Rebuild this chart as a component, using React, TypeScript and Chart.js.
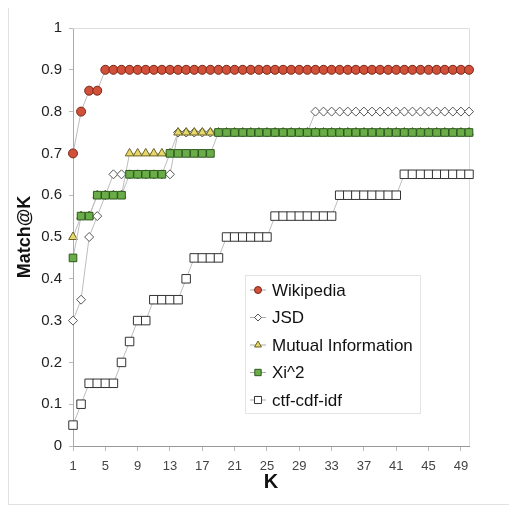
import React, { useEffect, useRef } from "react";
import { Chart, registerables } from "chart.js";
import { drawPoint } from "chart.js/helpers";

Chart.register(...registerables);

const K = [1, 2, 3, 4, 5, 6, 7, 8, 9, 10, 11, 12, 13, 14, 15, 16, 17, 18, 19, 20, 21, 22, 23, 24, 25, 26, 27, 28, 29, 30, 31, 32, 33, 34, 35, 36, 37, 38, 39, 40, 41, 42, 43, 44, 45, 46, 47, 48, 49, 50];

const wikipedia = [0.7, 0.8, 0.85, 0.85, 0.9, 0.9, 0.9, 0.9, 0.9, 0.9, 0.9, 0.9, 0.9, 0.9, 0.9, 0.9, 0.9, 0.9, 0.9, 0.9, 0.9, 0.9, 0.9, 0.9, 0.9, 0.9, 0.9, 0.9, 0.9, 0.9, 0.9, 0.9, 0.9, 0.9, 0.9, 0.9, 0.9, 0.9, 0.9, 0.9, 0.9, 0.9, 0.9, 0.9, 0.9, 0.9, 0.9, 0.9, 0.9, 0.9];

const jsd = [0.3, 0.35, 0.5, 0.55, 0.6, 0.65, 0.65, 0.65, 0.65, 0.65, 0.65, 0.65, 0.65, 0.75, 0.75, 0.75, 0.75, 0.75, 0.75, 0.75, 0.75, 0.75, 0.75, 0.75, 0.75, 0.75, 0.75, 0.75, 0.75, 0.75, 0.8, 0.8, 0.8, 0.8, 0.8, 0.8, 0.8, 0.8, 0.8, 0.8, 0.8, 0.8, 0.8, 0.8, 0.8, 0.8, 0.8, 0.8, 0.8, 0.8];

const mutualInfo = [0.5, 0.55, 0.55, 0.6, 0.6, 0.6, 0.6, 0.7, 0.7, 0.7, 0.7, 0.7, 0.7, 0.75, 0.75, 0.75, 0.75, 0.75, 0.75, 0.75, 0.75, 0.75, 0.75, 0.75, 0.75, 0.75, 0.75, 0.75, 0.75, 0.75, 0.75, 0.75, 0.75, 0.75, 0.75, 0.75, 0.75, 0.75, 0.75, 0.75, 0.75, 0.75, 0.75, 0.75, 0.75, 0.75, 0.75, 0.75, 0.75, 0.75];

const xi2 = [0.45, 0.55, 0.55, 0.6, 0.6, 0.6, 0.6, 0.65, 0.65, 0.65, 0.65, 0.65, 0.7, 0.7, 0.7, 0.7, 0.7, 0.7, 0.75, 0.75, 0.75, 0.75, 0.75, 0.75, 0.75, 0.75, 0.75, 0.75, 0.75, 0.75, 0.75, 0.75, 0.75, 0.75, 0.75, 0.75, 0.75, 0.75, 0.75, 0.75, 0.75, 0.75, 0.75, 0.75, 0.75, 0.75, 0.75, 0.75, 0.75, 0.75];

const ctfCdfIdf = [0.05, 0.1, 0.15, 0.15, 0.15, 0.15, 0.2, 0.25, 0.3, 0.3, 0.35, 0.35, 0.35, 0.35, 0.4, 0.45, 0.45, 0.45, 0.45, 0.5, 0.5, 0.5, 0.5, 0.5, 0.5, 0.55, 0.55, 0.55, 0.55, 0.55, 0.55, 0.55, 0.55, 0.6, 0.6, 0.6, 0.6, 0.6, 0.6, 0.6, 0.6, 0.65, 0.65, 0.65, 0.65, 0.65, 0.65, 0.65, 0.65, 0.65];

const xTicks = [1, 5, 9, 13, 17, 21, 25, 29, 33, 37, 41, 45, 49];
const yTickLabels = ["0", "0.1", "0.2", "0.3", "0.4", "0.5", "0.6", "0.7", "0.8", "0.9", "1"];
const seriesNames = ["Wikipedia", "JSD", "Mutual Information", "Xi^2", "ctf-cdf-idf"];

const FONT = "'Liberation Sans', Arial, sans-serif";

const toPts = (vals: number[]) => K.map((k, i) => ({ x: k, y: vals[i] }));

const frameLines = {
  id: "frameLines",
  beforeDatasetsDraw(chart: any) {
    const { ctx, chartArea: a } = chart;
    ctx.save();
    ctx.strokeStyle = "#dedede";
    ctx.lineWidth = 1;
    ctx.beginPath();
    ctx.moveTo(a.left, Math.round(a.top) + 0.5);
    ctx.lineTo(Math.round(a.right) + 0.5, Math.round(a.top) + 0.5);
    ctx.lineTo(Math.round(a.right) + 0.5, a.bottom);
    ctx.stroke();
    ctx.restore();
  },
};

const insideLegend = {
  id: "insideLegend",
  afterDraw(chart: any) {
    const { ctx, chartArea: a } = chart;
    const left = a.left + 172;
    const top = a.top + 247;
    const w = 175;
    const h = 138;
    ctx.save();
    ctx.fillStyle = "#ffffff";
    ctx.fillRect(left, top, w, h);
    ctx.strokeStyle = "#e4e4e4";
    ctx.lineWidth = 1;
    ctx.strokeRect(left + 0.5, top + 0.5, w, h);
    chart.data.datasets.forEach((ds: any, i: number) => {
      const y = top + 15 + i * 27.5;
      ctx.strokeStyle = "#aaaaaa";
      ctx.lineWidth = 1;
      ctx.beginPath();
      ctx.moveTo(left + 5, y);
      ctx.lineTo(left + 21, y);
      ctx.stroke();
      ctx.fillStyle = ds.pointBackgroundColor;
      ctx.strokeStyle = ds.pointBorderColor;
      ctx.lineWidth = 1;
      drawPoint(ctx, { pointStyle: ds.pointStyle, radius: ds.legendRadius, borderWidth: 1, rotation: 0 }, left + 13, y);
      ctx.fillStyle = "#111111";
      ctx.font = `17px ${FONT}`;
      ctx.textBaseline = "middle";
      ctx.textAlign = "left";
      ctx.fillText(ds.label, left + 27, y + 1);
    });
    ctx.restore();
  },
};

export default function App() {
  const ref = useRef<HTMLCanvasElement | null>(null);

  useEffect(() => {
    if (!ref.current) return;
    const lineColor = "#bdbdbd";
    const mk = (label: string, vals: number[], style: string, bg: string, border: string, r: number, lr: number, order: number) => ({
      label,
      data: toPts(vals),
      borderColor: lineColor,
      borderWidth: 1,
      pointStyle: style,
      pointBackgroundColor: bg,
      pointBorderColor: border,
      pointBorderWidth: 1,
      pointRadius: r,
      legendRadius: lr,
      order,
      tension: 0,
      clip: false,
    });
    const chart = new Chart(ref.current, {
      type: "line",
      data: {
        datasets: [
          mk(seriesNames[0], wikipedia, "circle", "#d0503a", "#7a2616", 4.5, 3.5, 0),
          mk(seriesNames[1], jsd, "rectRot", "#ffffff", "#555555", 4.5, 3.5, 3),
          mk(seriesNames[2], mutualInfo, "triangle", "#e6d86a", "#6a6222", 5, 4, 2),
          mk(seriesNames[3], xi2, "rect", "#6aad48", "#2c5a1c", 5.4, 4.5, 1),
          mk(seriesNames[4], ctfCdfIdf, "rect", "#ffffff", "#333333", 6, 5, 4),
        ] as any,
      },
      options: {
        animation: false,
        responsive: false,
        layout: { padding: { left: 0, top: 21, right: 40, bottom: 0 } },
        plugins: {
          legend: { display: false },
          tooltip: { enabled: false },
        },
        scales: {
          x: {
            type: "linear",
            min: 1,
            max: 50,
            afterBuildTicks: (scale: any) => {
              scale.ticks = xTicks.map((v) => ({ value: v }));
            },
            afterFit: (scale: any) => {
              scale.height = 58;
            },
            ticks: {
              color: "#444444",
              font: { family: FONT, size: 13 },
              padding: 8,
              maxRotation: 0,
              autoSkip: false,
            },
            grid: { drawOnChartArea: false, tickLength: 5, color: "#bbbbbb" },
            border: { color: "#999999" },
            title: {
              display: true,
              text: "K",
              color: "#111111",
              font: { family: FONT, size: 20, weight: "bold" },
              padding: { top: 0, bottom: 10 },
            },
          },
          y: {
            type: "linear",
            min: 0,
            max: 1,
            ticks: {
              stepSize: 0.1,
              color: "#222222",
              font: { family: FONT, size: 15 },
              padding: 7,
              callback: (_v: any, i: number) => yTickLabels[i],
            },
            afterFit: (scale: any) => {
              scale.width = 64;
            },
            grid: { drawOnChartArea: false, tickLength: 4, color: "#bbbbbb" },
            border: { color: "#aaaaaa" },
            title: {
              display: true,
              text: "Match@K",
              color: "#111111",
              font: { family: FONT, size: 18, weight: "bold" },
              padding: { top: 5, bottom: 0 },
            },
          },
        },
      } as any,
      plugins: [frameLines, insideLegend],
    });
    return () => chart.destroy();
  }, []);

  return (
    <div style={{ width: 500, height: 497, border: "1px solid #e2e2e2", marginTop: -2, background: "#fff" }}>
      <canvas ref={ref} width={500} height={497} style={{ display: "block" }} />
    </div>
  );
}
